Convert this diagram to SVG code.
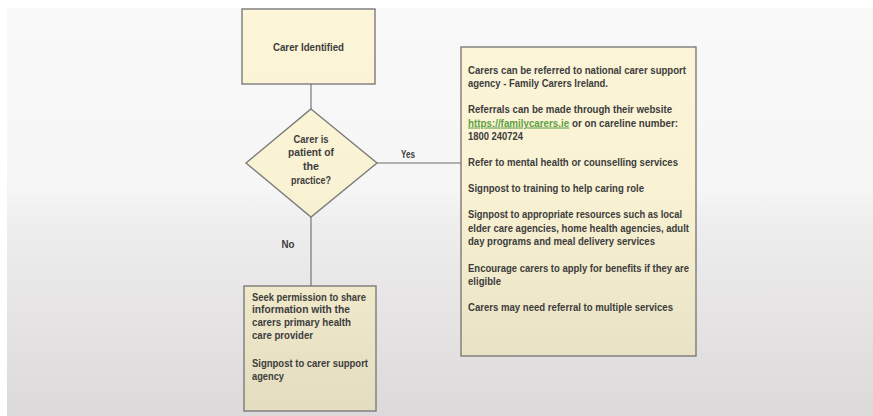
<svg xmlns="http://www.w3.org/2000/svg" width="873" height="416" viewBox="0 0 873 416">
  <defs>
    <linearGradient id="slideBg" x1="0" y1="0" x2="0" y2="416" gradientUnits="userSpaceOnUse">
      <stop offset="0" stop-color="#f9f9f9"/>
      <stop offset="0.45" stop-color="#f6f6f6"/>
      <stop offset="0.55" stop-color="#eeedee"/>
      <stop offset="1" stop-color="#dcd9da"/>
    </linearGradient>
    <linearGradient id="noteFill" x1="0" y1="0" x2="0" y2="416" gradientUnits="userSpaceOnUse">
      <stop offset="0" stop-color="#fcf5d8"/>
      <stop offset="0.45" stop-color="#f9f2d3"/>
      <stop offset="1" stop-color="#e3dcbe"/>
    </linearGradient>
  </defs>
  <style>
    .shape { fill: url(#noteFill); stroke: #7b7b7b; stroke-width: 1.4; }
    .wire { stroke: #6b6b6b; stroke-width: 1.1; fill: none; }
    .t { font-family: "Liberation Sans", Arial, sans-serif; font-weight: bold; font-size: 10.3px; fill: #3d3d3d; }
    .c { text-anchor: middle; }
    .link { fill: #5f9f45; text-decoration: underline; }
  </style>

  <!-- page and slide background -->
  <rect x="0" y="0" width="873" height="416" fill="#ffffff"/>
  <rect x="7" y="8" width="866" height="408" fill="url(#slideBg)"/>

  <!-- connectors -->
  <g id="connectors">
    <line class="wire" x1="311" y1="84" x2="311" y2="109"/>
    <line class="wire" x1="377" y1="163" x2="461" y2="163"/>
    <line class="wire" x1="311" y1="217" x2="311" y2="286"/>
    <text class="t c" x="408" y="157.5" textLength="14" lengthAdjust="spacingAndGlyphs">Yes</text>
    <text class="t c" x="288" y="247.5" textLength="13" lengthAdjust="spacingAndGlyphs">No</text>
  </g>

  <!-- start node -->
  <g id="carer-identified">
    <rect class="shape" x="242" y="9" width="133" height="75"/>
    <text class="t c" x="308.5" y="50.5" textLength="71" lengthAdjust="spacingAndGlyphs">Carer Identified</text>
  </g>

  <!-- decision -->
  <g id="is-patient">
    <polygon class="shape" points="311,109 377,163 311,217 246,163"/>
    <text class="t c" x="311" y="142.5" textLength="35" lengthAdjust="spacingAndGlyphs">Carer is</text>
    <text class="t c" x="311" y="156" textLength="46" lengthAdjust="spacingAndGlyphs">patient of</text>
    <text class="t c" x="311" y="169.5" textLength="16" lengthAdjust="spacingAndGlyphs">the</text>
    <text class="t c" x="311" y="183.5" textLength="40" lengthAdjust="spacingAndGlyphs">practice?</text>
  </g>

  <!-- yes branch -->
  <g id="yes-actions">
    <rect class="shape" x="461" y="47" width="235" height="309"/>
    <text class="t" x="468" y="73.5" textLength="218" lengthAdjust="spacingAndGlyphs">Carers can be referred to national carer support</text>
    <text class="t" x="468" y="87" textLength="140" lengthAdjust="spacingAndGlyphs">agency - Family Carers Ireland.</text>
    <text class="t" x="468" y="113" textLength="204" lengthAdjust="spacingAndGlyphs">Referrals can be made through their website</text>
    <text class="t" x="468" y="126.5" textLength="210" lengthAdjust="spacingAndGlyphs"><tspan class="link">https://familycarers.ie</tspan> or on careline number:</text>
    <text class="t" x="468" y="139.5" textLength="55" lengthAdjust="spacingAndGlyphs">1800 240724</text>
    <text class="t" x="468" y="165.5" textLength="210" lengthAdjust="spacingAndGlyphs">Refer to mental health or counselling services</text>
    <text class="t" x="468" y="191.5" textLength="176" lengthAdjust="spacingAndGlyphs">Signpost to training to help caring role</text>
    <text class="t" x="468" y="218" textLength="214" lengthAdjust="spacingAndGlyphs">Signpost to appropriate resources such as local</text>
    <text class="t" x="468" y="231.5" textLength="221" lengthAdjust="spacingAndGlyphs">elder care agencies, home health agencies, adult</text>
    <text class="t" x="468" y="245" textLength="187" lengthAdjust="spacingAndGlyphs">day programs and meal delivery services</text>
    <text class="t" x="468" y="271.5" textLength="221" lengthAdjust="spacingAndGlyphs">Encourage carers to apply for benefits if they are</text>
    <text class="t" x="468" y="284.5" textLength="33" lengthAdjust="spacingAndGlyphs">eligible</text>
    <text class="t" x="468" y="311" textLength="205" lengthAdjust="spacingAndGlyphs">Carers may need referral to multiple services</text>
  </g>

  <!-- no branch -->
  <g id="no-actions">
    <rect class="shape" x="244" y="286" width="132" height="125"/>
    <text class="t" x="252" y="300.5" textLength="114" lengthAdjust="spacingAndGlyphs">Seek permission to share</text>
    <text class="t" x="252" y="313" textLength="98" lengthAdjust="spacingAndGlyphs">information with the</text>
    <text class="t" x="252" y="325.5" textLength="99" lengthAdjust="spacingAndGlyphs">carers primary health</text>
    <text class="t" x="252" y="339" textLength="61" lengthAdjust="spacingAndGlyphs">care provider</text>
    <text class="t" x="252" y="366.5" textLength="116" lengthAdjust="spacingAndGlyphs">Signpost to carer support</text>
    <text class="t" x="252" y="379.5" textLength="32" lengthAdjust="spacingAndGlyphs">agency</text>
  </g>
</svg>
